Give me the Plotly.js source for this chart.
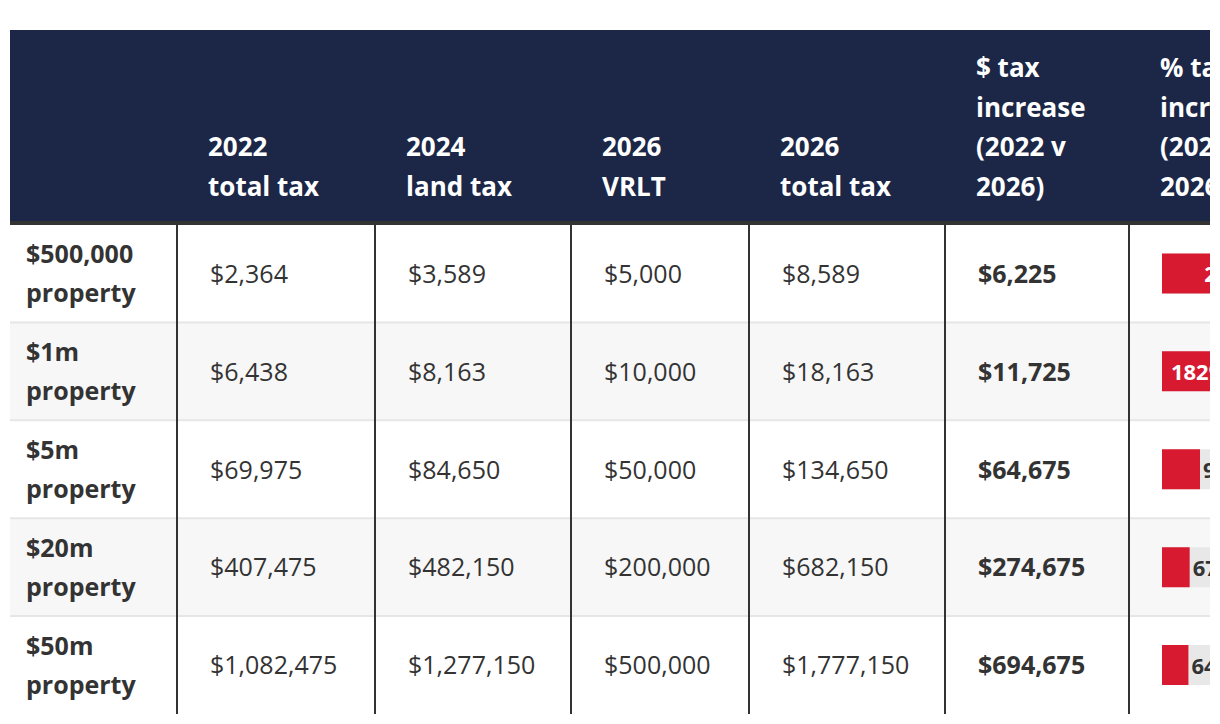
<!DOCTYPE html>
<html>
<head>
<meta charset="utf-8">
<script src="https://cdn.plot.ly/plotly-3.0.1.min.js"></script>
<style>
  html, body { margin: 0; padding: 0; background: #fff; }
  #plot { width: 1220px; height: 724px; }
</style>
</head>
<body>
<div id="plot"></div>
<script>
"use strict";

// ── Table data ──
const rowAmounts = ["$500,000", "$1m", "$5m", "$20m", "$50m"];
const rowSuffix = "property";
const headerLines = [
    ["2022", "total tax"],
    ["2024", "land tax"],
    ["2026", "VRLT"],
    ["2026", "total tax"],
    ["$ tax", "increase", "(2022 v", "2026)"],
    ["% tax", "increase", "(2022 v", "2026)"],
];
const tax2022 = ["$2,364", "$6,438", "$69,975", "$407,475", "$1,082,475"];
const land2024 = ["$3,589", "$8,163", "$84,650", "$482,150", "$1,277,150"];
const vrlt2026 = ["$5,000", "$10,000", "$50,000", "$200,000", "$500,000"];
const total2026 = ["$8,589", "$18,163", "$134,650", "$682,150", "$1,777,150"];
const dollarIncrease = ["$6,225", "$11,725", "$64,675", "$274,675", "$694,675"];
const pctIncrease = [263, 182, 92, 67, 64];

// ── Layout constants (page px; axes map 1:1 to px) ──
const FONT = "Open Sans, Noto Sans, sans-serif";
const TEXT = "#333333";
const NAVY = "#1c2747";
const RED = "#d81a31";
const colEdges = [10, 177, 375, 571, 749, 945, 1129];
const TABLE_L = 10, TABLE_R = 1210;
const HEAD_TOP = 30;
const ROW_TOP = 224.5, ROW_H = 97.9;
const LINE_GAP = 39.5;
const HEAD_LAST_LINE = 186;
const TEXT_DY = 3;          // plotly centres text a touch high
const PX_PER_PCT = 38 / 92;
const BAR_LEFT = 1162;
const LABEL_PAD = "\u00a0";   // inner padding after in-bar labels

const rowY = i => ROW_TOP + (i + 0.5) * ROW_H;
const rowIdx = rowAmounts.map((_, i) => i);

function textTrace(xs, ys, texts, opts) {
    return {
        type: "scatter", mode: "text",
        x: xs, y: ys.map(v => v + TEXT_DY), text: texts,
        textposition: "middle right",
        textfont: Object.assign({ family: FONT, size: 25, color: TEXT }, opts || {}),
        hoverinfo: "skip", showlegend: false,
        xaxis: "x", yaxis: "y",
    };
}

const traces = [];

// Row headers: two lines each
traces.push(textTrace(rowIdx.map(() => colEdges[0] + 16),
    rowIdx.map(i => rowY(i) - LINE_GAP / 2), rowAmounts, { weight: 700 }));
traces.push(textTrace(rowIdx.map(() => colEdges[0] + 16),
    rowIdx.map(i => rowY(i) + LINE_GAP / 2), rowIdx.map(() => rowSuffix), { weight: 700 }));

// Body columns
const bodyCols = [tax2022, land2024, vrlt2026, total2026, dollarIncrease];
bodyCols.forEach((col, c) => {
    traces.push(textTrace(col.map(() => colEdges[c + 1] + 33),
        rowIdx.map(rowY), col, c === 4 ? { weight: 700 } : { weight: 400 }));
});

// Header text, bottom aligned
headerLines.forEach((lines, c) => {
    const n = lines.length;
    traces.push(textTrace(lines.map(() => colEdges[c + 1] + 31),
        lines.map((_, j) => HEAD_LAST_LINE - (n - 1 - j) * LINE_GAP),
        lines, { weight: 700, color: "#ffffff", size: 26 }));
});

// Bar column: grey track + red bar
const maxPct = Math.max(...pctIncrease);
traces.push({
    type: "bar", orientation: "h",
    x: pctIncrease.map(() => maxPct), y: rowIdx.map(rowY),
    width: 40,
    marker: { color: "#e8e8e8" },
    hoverinfo: "skip", showlegend: false,
    xaxis: "x2", yaxis: "y",
});
traces.push({
    type: "bar", orientation: "h",
    x: pctIncrease, y: rowIdx.map(rowY),
    width: 40,
    marker: { color: RED },
    text: pctIncrease.map(v => v + "%" + LABEL_PAD),
    textposition: "auto",
    insidetextanchor: "end",
    constraintext: "none",
    insidetextfont: { family: FONT, size: 22, color: "#ffffff", weight: 700 },
    outsidetextfont: { family: FONT, size: 22, color: TEXT, weight: 700 },
    hoverinfo: "skip", showlegend: false,
    xaxis: "x2", yaxis: "y",
});

// ── Shapes: backgrounds & rules ──
const shapes = [];
rowIdx.forEach(i => {
    if (i % 2 === 1) {
        shapes.push({ type: "rect", layer: "below", xref: "x", yref: "y",
            x0: TABLE_L, x1: TABLE_R, y0: rowY(i) - ROW_H / 2, y1: rowY(i) + ROW_H / 2,
            fillcolor: "#f7f7f7", line: { width: 0 } });
    }
    if (i > 0) {
        shapes.push({ type: "line", layer: "below", xref: "x", yref: "y",
            x0: TABLE_L, x1: TABLE_R, y0: rowY(i) - ROW_H / 2, y1: rowY(i) - ROW_H / 2,
            line: { color: "#e6e6e6", width: 2 } });
    }
});
shapes.push({ type: "rect", layer: "below", xref: "x", yref: "y",
    x0: TABLE_L, x1: TABLE_R, y0: HEAD_TOP, y1: ROW_TOP - 2,
    fillcolor: NAVY, line: { width: 0 } });
shapes.push({ type: "line", layer: "below", xref: "x", yref: "y",
    x0: TABLE_L, x1: TABLE_R, y0: ROW_TOP - 1.5, y1: ROW_TOP - 1.5,
    line: { color: "#333333", width: 4 } });
colEdges.slice(1).forEach(xe => {
    shapes.push({ type: "line", layer: "below", xref: "x", yref: "y",
        x0: xe, x1: xe, y0: ROW_TOP, y1: rowY(rowAmounts.length - 1) + ROW_H / 2,
        line: { color: "#333333", width: 2 } });
});

const layout = {
    width: 1220, height: 724,
    margin: { l: TABLE_L, r: 1220 - TABLE_R, t: 0, b: 0, pad: 0 },
    paper_bgcolor: "#ffffff", plot_bgcolor: "rgba(0,0,0,0)",
    showlegend: false,
    barmode: "overlay",
    hovermode: false,
    shapes: shapes,
    xaxis: { range: [TABLE_L, TABLE_R], domain: [0, 1], visible: false, fixedrange: true },
    xaxis2: {
        domain: [(BAR_LEFT - TABLE_L) / (TABLE_R - TABLE_L), 1],
        range: [0, (TABLE_R - BAR_LEFT) / PX_PER_PCT],
        anchor: "y", visible: false, fixedrange: true,
    },
    yaxis: { range: [724, 0], domain: [0, 1], visible: false, fixedrange: true },
};

Plotly.newPlot("plot", traces, layout, { staticPlot: true, displayModeBar: false });
</script>
</body>
</html>
